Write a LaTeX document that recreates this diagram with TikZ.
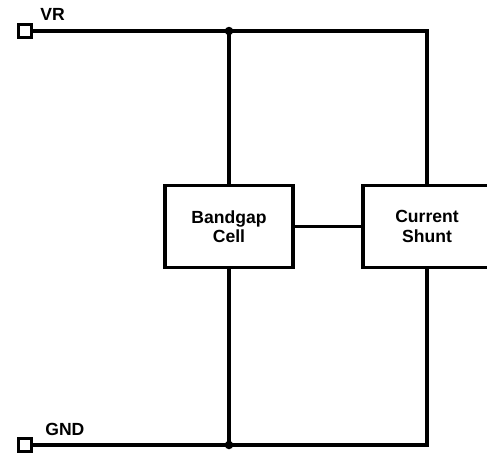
\documentclass[tikz,border=0pt]{standalone}
\usepackage{fontspec}
\setmainfont{Liberation Sans}
\usetikzlibrary{positioning}

\begin{document}
\begin{tikzpicture}[
    x=0.02cm, y=-0.02cm,
    every node/.style={font=\bfseries\fontsize{10}{11}\selectfont},
    wire/.style ={line width=2pt},
    pin/.style  ={draw, line width=2pt, fill=white, inner sep=0pt,
                  minimum size=2.6mm},
    blk/.style  ={draw, line width=2pt, align=center, inner sep=2pt,
                  minimum width=25.6mm, minimum height=16.4mm},
    jdot/.style ={circle, fill, inner sep=0pt, minimum size=1.7mm},
]
\clip (0,0) rectangle (487,454);
% terminals
\node[pin] (vr)  at (25,31)  {};
\node[pin] (gnd) at (25,445) {};
\node[anchor=south west, inner sep=0pt] (vrlbl)  at (40,21)  {VR};
\node[anchor=south west, inner sep=0pt] (gndlbl) at (45,436) {GND};
% blocks
\node[blk] (bg) at (229,226.5) {Bandgap\\Cell};
\node[blk] (cs) at (427,226.5) {Current\\Shunt};
% corners and junctions
\coordinate (tj) at (229,31);
\coordinate (tr) at (427,31);
\coordinate (bj) at (229,445);
\coordinate (br) at (427,445);
\draw[wire] (vr.east) -- (tr) -- (cs.north);
\draw[wire] (gnd.east) -- (br) -- (cs.south);
\draw[wire] (tj) -- (bg.north);
\draw[wire] (bg.south) -- (bj);
\draw[wire] (bg.east) -- (cs.west);
\node[jdot] at (tj) {};
\node[jdot] at (bj) {};
\end{tikzpicture}
\end{document}
